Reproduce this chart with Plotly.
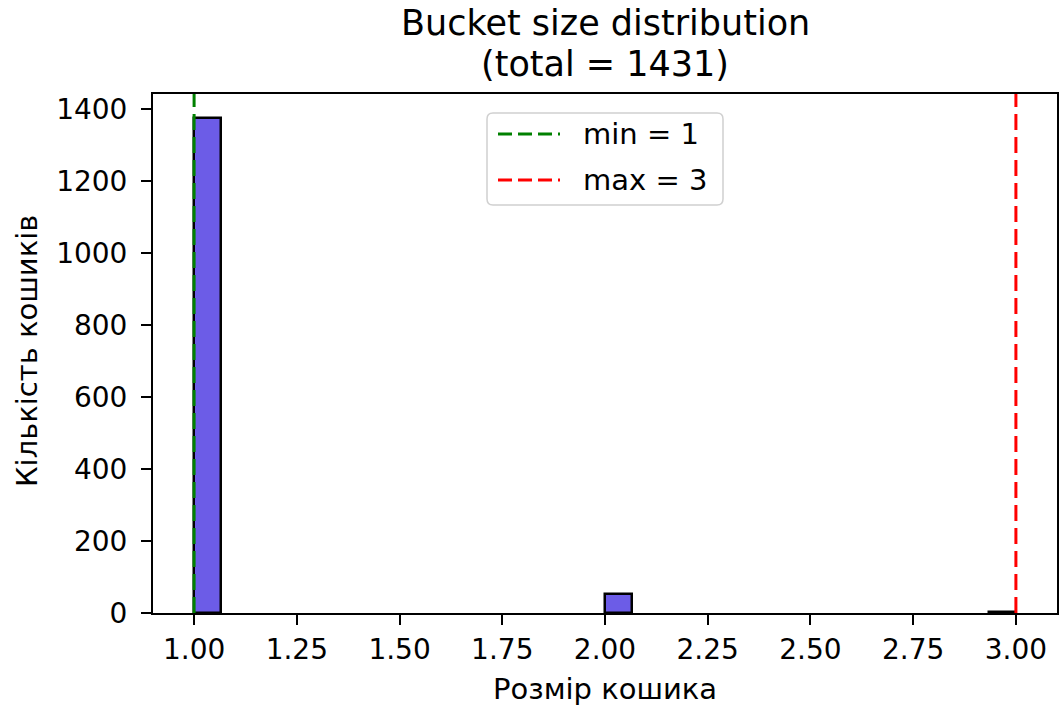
import numpy as np
import plotly.graph_objects as go

# Data
bucket_min = 1
bucket_max = 3
n_bins = 30
# non-empty histogram bins: bin index -> count
bin_index = [0, 15, 29]
bin_counts = [1375, 52, 4]
total = 1431
title_lines = ["Bucket size distribution", f"(total = {total})"]
x_label = "Розмір кошика"
y_label = "Кількість кошиків"
y_ticks = [0, 200, 400, 600, 800, 1000, 1200, 1400]
x_ticks = [1.00, 1.25, 1.50, 1.75, 2.00, 2.25, 2.50, 2.75, 3.00]
legend_labels = [f"min = {bucket_min}", f"max = {bucket_max}"]
legend_colors = ["green", "red"]

edges = np.linspace(bucket_min, bucket_max, n_bins + 1)
width = edges[1] - edges[0]
centers = [edges[i] + width / 2 for i in bin_index]

font = "DejaVu Sans, Liberation Sans, sans-serif"
W, H = 1060, 709
# plot area in pixels (page body margin removed below)
SL, SR, ST, SB = 153, 1057, 94, 613
ymax = 1373 * 1.05
span = bucket_max - bucket_min
xr = [bucket_min - 0.05 * span, bucket_max + 0.05 * span]


def px(x):  # pixel x -> paper
    return (x - SL) / (SR - SL)


def py(y):  # pixel y -> paper
    return (SB - y) / (SB - ST)


fig = go.Figure()
fig.add_trace(go.Bar(
    x=centers, y=bin_counts, width=[width] * len(centers),
    marker=dict(color="#6C5CE7", line=dict(color="black", width=2.5)),
    showlegend=False, hoverinfo="x+y",
))
for xv, col, lab in zip([bucket_min, bucket_max], legend_colors, legend_labels):
    fig.add_trace(go.Scatter(
        x=[xv, xv], y=[0, ymax], mode="lines",
        line=dict(color=col, width=3, dash="16px,7px"), name=lab, showlegend=False,
    ))

axis_common = dict(
    showline=True, linecolor="black", linewidth=2, mirror=True,
    ticks="outside", ticklen=10, tickwidth=2, tickcolor="black",
    showgrid=False, zeroline=False, automargin=False,
    tickfont=dict(family=font, size=28, color="black"),
)

annotations = [
    dict(text=title_lines[0], x=px(605), y=py(23), xref="paper", yref="paper",
         xanchor="center", yanchor="middle", showarrow=False, borderpad=0,
         font=dict(family=font, size=35, color="black")),
    dict(text=title_lines[1], x=px(605), y=py(64), xref="paper", yref="paper",
         xanchor="center", yanchor="middle", showarrow=False, borderpad=0,
         font=dict(family=font, size=35, color="black")),
    dict(text=x_label, x=px(605), y=py(689), xref="paper", yref="paper",
         xanchor="center", yanchor="middle", showarrow=False, borderpad=0,
         font=dict(family=font, size=29, color="black")),
    dict(text=y_label, x=px(27), y=py(351), xref="paper", yref="paper",
         xanchor="center", yanchor="middle", showarrow=False, textangle=-90,
         font=dict(family=font, size=29, color="black")),
]

# manual legend box
lx0, lx1, ly0, ly1, rad = 487, 723, 113, 205, 6
path = (f"M {px(lx0 + rad)},{py(ly0)} L {px(lx1 - rad)},{py(ly0)} "
        f"Q {px(lx1)},{py(ly0)} {px(lx1)},{py(ly0 + rad)} "
        f"L {px(lx1)},{py(ly1 - rad)} Q {px(lx1)},{py(ly1)} {px(lx1 - rad)},{py(ly1)} "
        f"L {px(lx0 + rad)},{py(ly1)} Q {px(lx0)},{py(ly1)} {px(lx0)},{py(ly1 - rad)} "
        f"L {px(lx0)},{py(ly0 + rad)} Q {px(lx0)},{py(ly0)} {px(lx0 + rad)},{py(ly0)} Z")
shapes = [dict(type="path", path=path, xref="paper", yref="paper",
               fillcolor="rgba(255,255,255,0.85)", line=dict(color="#d0d0d0", width=1.5),
               layer="above")]
for i, (lab, col) in enumerate(zip(legend_labels, legend_colors)):
    yy = 134 + i * 46
    shapes.append(dict(type="line", xref="paper", yref="paper",
                       x0=px(498), x1=px(560), y0=py(yy), y1=py(yy),
                       line=dict(color=col, width=3, dash="14px,6px"), layer="above"))
    annotations.append(dict(text=lab, x=px(581), y=py(yy), xref="paper", yref="paper",
                            xanchor="left", yanchor="middle", showarrow=False,
                            font=dict(family=font, size=29, color="black")))

fig.update_layout(
    width=W, height=H,
    paper_bgcolor="white", plot_bgcolor="white",
    margin=dict(l=SL, r=W - SR, t=ST, b=H - SB, autoexpand=False),
    font=dict(family=font, color="black"),
    xaxis=dict(range=xr, tickvals=x_ticks, ticklabelstandoff=0,
               ticktext=[f"{v:.2f}" for v in x_ticks], **axis_common),
    yaxis=dict(range=[0, ymax], tickvals=y_ticks, ticklabelstandoff=8, **axis_common),
    annotations=annotations,
    shapes=shapes,
    showlegend=False,
    bargap=0,
)

fig.write_html("out.html", config={"displayModeBar": False},
               post_script="document.body.style.margin='0px';")
